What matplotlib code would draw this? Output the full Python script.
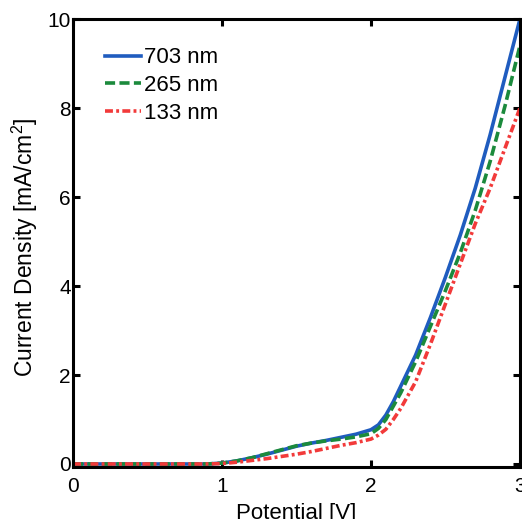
import matplotlib
matplotlib.use("Agg")
import matplotlib.pyplot as plt

plt.rcParams['font.family'] = ['Liberation Sans', 'DejaVu Sans']
plt.rcParams['mathtext.fontset'] = 'custom'
plt.rcParams['mathtext.rm'] = 'Liberation Sans'
plt.rcParams['mathtext.it'] = 'Liberation Sans'

potential = [0, 0.5, 0.9, 1.0, 1.1, 1.2, 1.3, 1.4, 1.5, 1.6, 1.7, 1.8, 1.9, 2.0,
             2.05, 2.1, 2.15, 2.2, 2.25, 2.3, 2.4, 2.5, 2.6, 2.7, 2.8, 2.9, 3.0]
j_703 = [0, 0, 0, 0.02, 0.07, 0.14, 0.22, 0.31, 0.40, 0.47, 0.53, 0.60, 0.67, 0.77,
         0.88, 1.1, 1.4, 1.75, 2.1, 2.45, 3.3, 4.2, 5.15, 6.2, 7.4, 8.7, 10.0]
j_265 = [0, 0, 0, 0.02, 0.07, 0.14, 0.23, 0.32, 0.41, 0.47, 0.52, 0.56, 0.61, 0.68,
         0.80, 1.0, 1.3, 1.6, 1.95, 2.3, 3.1, 3.9, 4.75, 5.7, 6.8, 8.05, 9.4]
j_133 = [0, 0, 0, 0.01, 0.04, 0.08, 0.12, 0.17, 0.22, 0.28, 0.35, 0.42, 0.48, 0.56,
         0.65, 0.78, 1.0, 1.25, 1.55, 1.85, 2.7, 3.6, 4.5, 5.4, 6.2, 7.1, 8.0]
labels = ['703 nm', '265 nm', '133 nm']
xticks = [0, 1, 2, 3]
yticks = [0, 2, 4, 6, 8, 10]

fig = plt.figure(figsize=(5.22, 5.19), dpi=100)
ax = fig.add_axes([0.140, 0.100, 0.856, 0.863])

ax.plot(potential, j_703, color='#1f5cbf', lw=2.6, ls='-', label=labels[0])
ax.plot(potential, j_265, color='#1b8a3c', lw=2.6, ls=(0, (2.8, 1.2)), label=labels[1])
ax.plot(potential, j_133, color='#f23a3a', lw=2.6, ls=(0, (2.2, 0.9, 0.8, 0.9)), label=labels[2])

ax.set_xlim(0, 3)
ax.set_ylim(-0.07, 10)
ax.set_xticks(xticks)
ax.set_yticks(yticks)
ax.tick_params(direction='in', length=5, width=2.2, top=True, right=True,
               labelsize=15)
ax.tick_params(axis='x', pad=7)
ax.tick_params(axis='y', pad=1.5)
for s in ax.spines.values():
    s.set_linewidth(2.2)

ax.set_xlabel('Potential [V]', fontsize=16, labelpad=5)
ax.set_ylabel('Current Density [mA/cm$^2$]', fontsize=16.5)
ax.yaxis.set_label_coords(-0.075, 0.49)

leg = ax.legend(loc='upper left', bbox_to_anchor=(0.072, 0.937), frameon=False,
                fontsize=16, handlelength=1.6, handletextpad=0.14,
                labelspacing=0.3, borderaxespad=0, borderpad=0)

fig.savefig('out.png', dpi=100)
